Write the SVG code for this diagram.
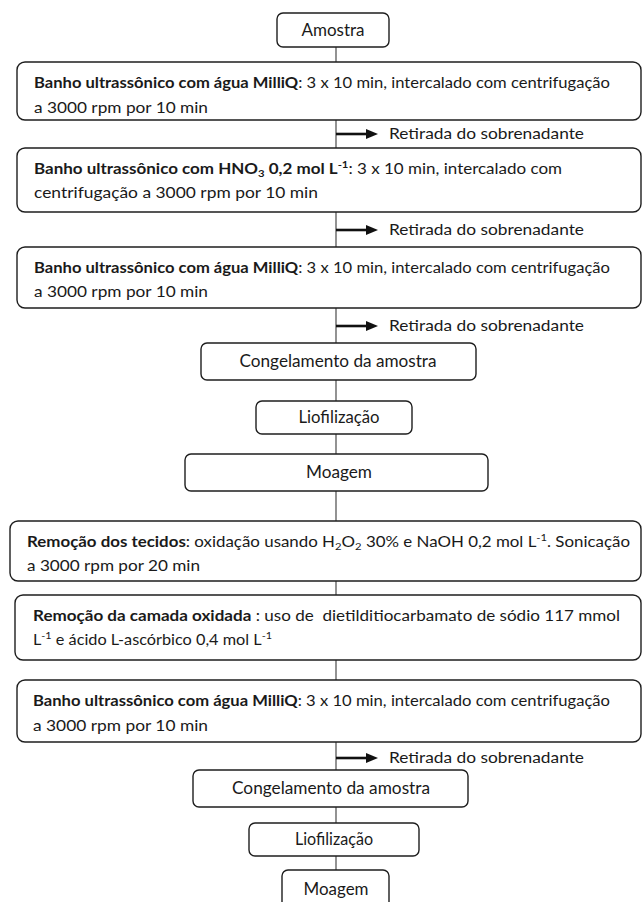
<svg xmlns="http://www.w3.org/2000/svg" width="643" height="902" viewBox="0 0 643 902">
<style>
.bx{fill:#fff;stroke:#1e1e1e;stroke-width:1.4}
.cn{stroke:#4a4a4a;stroke-width:1.2;fill:none}
.ar{stroke:#111;stroke-width:2.6;fill:none}
.t{font-family:Lato,"Open Sans","Liberation Sans",sans-serif;font-size:15px;fill:#1a1a1a}
.l{font-family:Lato,"Open Sans","Liberation Sans",sans-serif;font-size:17px;fill:#1a1a1a}
.r{font-family:Lato,"Open Sans","Liberation Sans",sans-serif;font-size:16px;fill:#1a1a1a}
.b{font-weight:bold}
.s{font-size:10px}
</style>
<defs>
<marker id="ah" markerUnits="userSpaceOnUse" markerWidth="12" markerHeight="10" refX="0" refY="5" orient="auto">
<path d="M0,0 L12,5 L0,10 z" fill="#111"/>
</marker>
</defs>
<rect width="643" height="902" fill="#fff"/>
<g id="connectors">
<line class="cn" x1="336" y1="47" x2="336" y2="62"/>
<line class="cn" x1="336" y1="120" x2="336" y2="148"/>
<line class="cn" x1="336" y1="212" x2="336" y2="247"/>
<line class="cn" x1="336" y1="308" x2="336" y2="343"/>
<line class="cn" x1="336" y1="380" x2="336" y2="401"/>
<line class="cn" x1="336" y1="434" x2="336" y2="454"/>
<line class="cn" x1="336" y1="491" x2="336" y2="521"/>
<line class="cn" x1="336" y1="581" x2="336" y2="595"/>
<line class="cn" x1="336" y1="660" x2="336" y2="680"/>
<line class="cn" x1="336" y1="742" x2="336" y2="770"/>
<line class="cn" x1="336" y1="807" x2="336" y2="823"/>
<line class="cn" x1="336" y1="856" x2="336" y2="870"/>
<line class="ar" x1="336" y1="134" x2="366" y2="134" marker-end="url(#ah)"/>
<line class="ar" x1="336" y1="230" x2="366" y2="230" marker-end="url(#ah)"/>
<line class="ar" x1="336" y1="326" x2="366" y2="326" marker-end="url(#ah)"/>
<line class="ar" x1="336" y1="758" x2="366" y2="758" marker-end="url(#ah)"/>
</g>
<g id="retirada-labels">
<text class="r" x="389" y="139" textLength="195" lengthAdjust="spacingAndGlyphs">Retirada do sobrenadante</text>
<text class="r" x="389" y="235" textLength="195" lengthAdjust="spacingAndGlyphs">Retirada do sobrenadante</text>
<text class="r" x="389" y="331" textLength="195" lengthAdjust="spacingAndGlyphs">Retirada do sobrenadante</text>
<text class="r" x="389" y="763" textLength="195" lengthAdjust="spacingAndGlyphs">Retirada do sobrenadante</text>
</g>
<g id="amostra">
<rect class="bx" x="277" y="13" width="112" height="34" rx="6"/>
<text class="l" x="333" y="36" text-anchor="middle">Amostra</text>
</g>
<g id="banho1">
<rect class="bx" x="17" y="62" width="624" height="58" rx="8"/>
<text class="t" x="34" y="88" textLength="576" lengthAdjust="spacingAndGlyphs"><tspan class="b">Banho ultrassônico com água MilliQ</tspan>: 3 x 10 min, intercalado com centrifugação</text>
<text class="t" x="34" y="113" textLength="174" lengthAdjust="spacingAndGlyphs">a 3000 rpm por 10 min</text>
</g>
<g id="banho2">
<rect class="bx" x="17" y="148" width="624" height="64" rx="8"/>
<text class="t" x="34" y="174" textLength="528" lengthAdjust="spacingAndGlyphs"><tspan class="b">Banho ultrassônico com HNO</tspan><tspan class="b s" dy="3">3</tspan><tspan class="b" dy="-3"> 0,2 mol L</tspan><tspan class="b s" dy="-6">-1</tspan><tspan dy="6">: 3 x 10 min, intercalado com</tspan></text>
<text class="t" x="34" y="198" textLength="284" lengthAdjust="spacingAndGlyphs">centrifugação a 3000 rpm por 10 min</text>
</g>
<g id="banho3">
<rect class="bx" x="17" y="247" width="624" height="61" rx="8"/>
<text class="t" x="34" y="273" textLength="576" lengthAdjust="spacingAndGlyphs"><tspan class="b">Banho ultrassônico com água MilliQ</tspan>: 3 x 10 min, intercalado com centrifugação</text>
<text class="t" x="34" y="297" textLength="174" lengthAdjust="spacingAndGlyphs">a 3000 rpm por 10 min</text>
</g>
<g id="congelamento1">
<rect class="bx" x="201" y="343" width="275" height="37" rx="6"/>
<text class="l" x="338" y="367" text-anchor="middle" textLength="197" lengthAdjust="spacingAndGlyphs">Congelamento da amostra</text>
</g>
<g id="liofilizacao1">
<rect class="bx" x="256" y="401" width="156" height="33" rx="6"/>
<text class="l" x="339" y="423" text-anchor="middle" textLength="81" lengthAdjust="spacingAndGlyphs">Liofilização</text>
</g>
<g id="moagem1">
<rect class="bx" x="185" y="454" width="303" height="37" rx="6"/>
<text class="l" x="339" y="478" text-anchor="middle" textLength="66" lengthAdjust="spacingAndGlyphs">Moagem</text>
</g>
<g id="remocao-tecidos">
<rect class="bx" x="10" y="521" width="631" height="60" rx="8"/>
<text class="t" x="27" y="547" textLength="603" lengthAdjust="spacingAndGlyphs"><tspan class="b">Remoção dos tecidos</tspan>: oxidação usando H<tspan class="s" dy="3">2</tspan><tspan dy="-3">O</tspan><tspan class="s" dy="3">2</tspan><tspan dy="-3"> 30% e NaOH 0,2 mol L</tspan><tspan class="s" dy="-6">-1</tspan><tspan dy="6">. Sonicação</tspan></text>
<text class="t" x="27" y="571" textLength="173" lengthAdjust="spacingAndGlyphs">a 3000 rpm por 20 min</text>
</g>
<g id="remocao-camada">
<rect class="bx" x="15" y="595" width="626" height="65" rx="8"/>
<text class="t" x="33" y="621" textLength="587" lengthAdjust="spacingAndGlyphs" style="white-space:pre"><tspan class="b">Remoção da camada oxidada</tspan> : uso de  dietilditiocarbamato de sódio 117 mmol</text>
<text class="t" x="33" y="645" textLength="239" lengthAdjust="spacingAndGlyphs">L<tspan class="s" dy="-6">-1</tspan><tspan dy="6"> e ácido L-ascórbico 0,4 mol L</tspan><tspan class="s" dy="-6">-1</tspan></text>
</g>
<g id="banho4">
<rect class="bx" x="17" y="680" width="624" height="62" rx="8"/>
<text class="t" x="33" y="706" textLength="577" lengthAdjust="spacingAndGlyphs"><tspan class="b">Banho ultrassônico com água MilliQ</tspan>: 3 x 10 min, intercalado com centrifugação</text>
<text class="t" x="33" y="731" textLength="175" lengthAdjust="spacingAndGlyphs">a 3000 rpm por 10 min</text>
</g>
<g id="congelamento2">
<rect class="bx" x="193" y="770" width="275" height="37" rx="6"/>
<text class="l" x="331" y="794" text-anchor="middle" textLength="198" lengthAdjust="spacingAndGlyphs">Congelamento da amostra</text>
</g>
<g id="liofilizacao2">
<rect class="bx" x="249" y="823" width="170" height="33" rx="6"/>
<text class="l" x="334" y="845" text-anchor="middle" textLength="78" lengthAdjust="spacingAndGlyphs">Liofilização</text>
</g>
<g id="moagem2">
<rect class="bx" x="282" y="870" width="107" height="40" rx="6"/>
<text class="l" x="336" y="895" text-anchor="middle" textLength="65" lengthAdjust="spacingAndGlyphs">Moagem</text>
</g>
</svg>
